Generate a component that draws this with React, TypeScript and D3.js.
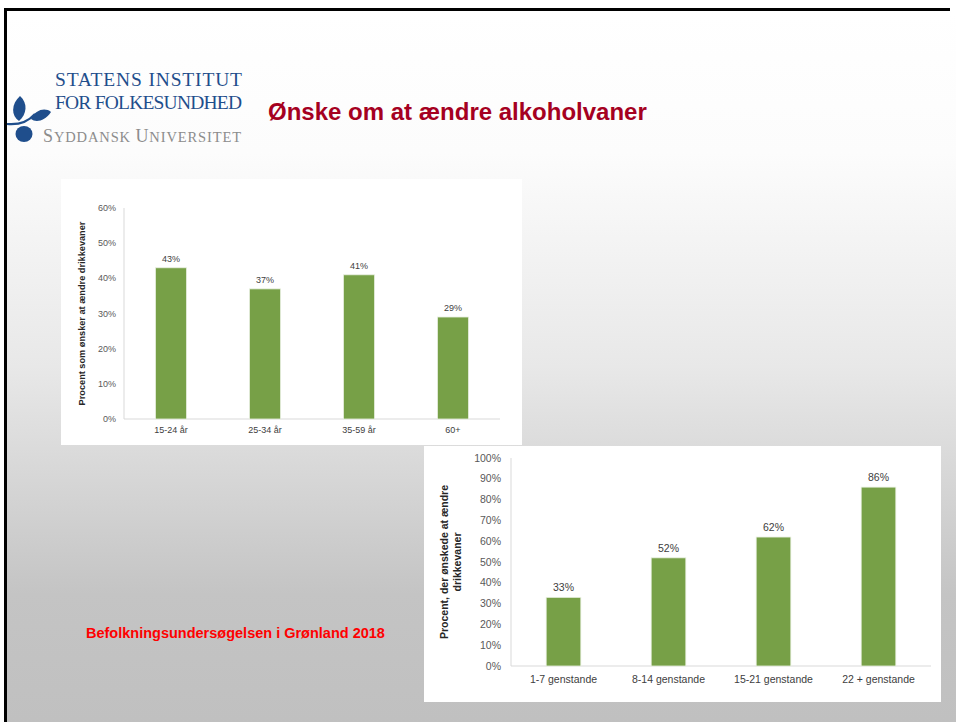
import React from "react";
import * as d3 from "d3";

// chart 1: age groups
const ageGroups = ["15-24 år", "25-34 år", "35-59 år", "60+"];
const ageValues = [43, 37, 41, 29];
const ageTicks = [0, 10, 20, 30, 40, 50, 60];

// chart 2: number of items
const itemGroups = ["1-7 genstande", "8-14 genstande", "15-21 genstande", "22 + genstande"];
const itemValues = [33, 52, 62, 86];
const itemTicks = [0, 10, 20, 30, 40, 50, 60, 70, 80, 90, 100];

const GREEN = "#77a047";
const AXIS = "#d9d9d9";
const TICK_TXT = "#595959";

type BarProps = {
  cats: string[];
  vals: number[];
  ticks: number[];
  x0: number;
  x1: number;
  yTop: number;
  yBottom: number;
  fs: number;
  labelLines: string[];
  labelX: number;
  labelFs: number;
  tickGap: number;
  catGap: number;
  pad: number;
};

const BarChart = (p: BarProps) => {
  const x = d3.scaleBand().domain(p.cats).range([p.x0, p.x1]).paddingInner(p.pad).paddingOuter(p.pad / 2);
  const y = d3.scaleLinear().domain([0, d3.max(p.ticks) as number]).range([p.yBottom, p.yTop]);
  const midY = (p.yTop + p.yBottom) / 2;
  return (
    <g fontFamily="Liberation Sans, Arial, sans-serif">
      <line x1={p.x0} x2={p.x0} y1={p.yTop} y2={p.yBottom} stroke={AXIS} />
      <line x1={p.x0} x2={p.x1} y1={p.yBottom} y2={p.yBottom} stroke={AXIS} />
      {p.ticks.map(t => (
        <text key={t} x={p.x0 - p.tickGap} y={y(t)} dy="0.35em" textAnchor="end" fontSize={p.fs} fill={TICK_TXT}>
          {t}%
        </text>
      ))}
      {p.cats.map((c, i) => (
        <g key={c}>
          <rect x={x(c)} y={y(p.vals[i])} width={x.bandwidth()} height={p.yBottom - y(p.vals[i])}
            fill={GREEN} stroke="#e8efe0" strokeWidth={0.8} />
          <text x={(x(c) as number) + x.bandwidth() / 2} y={y(p.vals[i]) - 6} textAnchor="middle"
            fontSize={p.fs} fill="#404040">{p.vals[i]}%</text>
          <text x={(x(c) as number) + x.bandwidth() / 2} y={p.yBottom + p.catGap} textAnchor="middle"
            fontSize={p.fs} fill="#404040">{c}</text>
        </g>
      ))}
      {p.labelLines.map((l, i) => (
        <text key={l} transform={`translate(${p.labelX + i * p.labelFs * 1.2},${midY}) rotate(-90)`}
          textAnchor="middle" fontSize={p.labelFs} fontWeight="bold" fill="#262626">{l}</text>
      ))}
    </g>
  );
};

const Logo = () => (
  <g>
    <g fill="#1f4e8c">
      <path d="M20,96 C11,104 11,116 19,121 C27,114 28,103 20,96 Z" />
      <path d="M31,119 C35,110 45,107 51,112 C45,121 36,123 31,119 Z" />
      <path d="M7,124 C18,125 28,122 35,114" stroke="#1f4e8c" strokeWidth={2.2} fill="none" />
      <ellipse cx={24} cy={134} rx={8.5} ry={8} />
    </g>
    <text x={55} y={85.5} fontFamily="Liberation Serif, Times New Roman, serif" fontSize={19.5}
      fill="#1f4e8c" textLength={187} lengthAdjust="spacing">STATENS INSTITUT</text>
    <text x={55} y={108.5} fontFamily="Liberation Serif, Times New Roman, serif" fontSize={19.5}
      fill="#1f4e8c" textLength={187} lengthAdjust="spacing">FOR FOLKESUNDHED</text>
    <text x={43} y={142} fontFamily="Liberation Serif, Times New Roman, serif" fill="#8c8c8c"
      textLength={198} lengthAdjust="spacing">
      <tspan fontSize={18}>S</tspan><tspan fontSize={14.5}>YDDANSK </tspan>
      <tspan fontSize={18}>U</tspan><tspan fontSize={14.5}>NIVERSITET</tspan>
    </text>
  </g>
);

export default function App() {
  return (
    <svg width={956} height={722} style={{ position: "absolute", left: 0, top: 0 }}>
      <defs>
        <linearGradient id="bg" x1="0" y1="11" x2="0" y2="722" gradientUnits="userSpaceOnUse">
          <stop offset="0" stopColor="#ffffff" />
          <stop offset="0.2" stopColor="#fcfcfc" />
          <stop offset="0.5" stopColor="#e8e8e8" />
          <stop offset="0.82" stopColor="#c4c4c4" />
          <stop offset="1" stopColor="#c0c0c0" />
        </linearGradient>
      </defs>
      <rect x={0} y={0} width={956} height={722} fill="#ffffff" />
      <rect x={7} y={11} width={949} height={711} fill="url(#bg)" />
      <rect x={4} y={8} width={946} height={3} fill="#000" />
      <rect x={4} y={8} width={3} height={714} fill="#000" />

      <Logo />
      <text x={268} y={120} fontFamily="Liberation Sans, Arial, sans-serif" fontWeight="bold" fontSize={24}
        fill="#a50021">Ønske om at ændre alkoholvaner</text>

      <rect x={61} y={179} width={461} height={266} fill="#ffffff" />
      <BarChart cats={ageGroups} vals={ageValues} ticks={ageTicks} x0={124} x1={500} yTop={208} yBottom={419}
        fs={9} labelLines={["Procent som ønsker at ændre drikkevaner"]} labelX={85} labelFs={9.2}
        tickGap={8} catGap={14} pad={0.67} />

      <rect x={424} y={446} width={517} height={256} fill="#ffffff" />
      <BarChart cats={itemGroups} vals={itemValues} ticks={itemTicks} x0={511} x1={931} yTop={458} yBottom={666}
        fs={10.5} labelLines={["Procent, der ønskede at ændre", "drikkevaner"]} labelX={448} labelFs={10.5}
        tickGap={10} catGap={17} pad={0.67} />

      <text x={86} y={638} fontFamily="Liberation Sans, Arial, sans-serif" fontWeight="bold" fontSize={14.5}
        fill="#ff0000">Befolkningsundersøgelsen i Grønland 2018</text>
    </svg>
  );
}
